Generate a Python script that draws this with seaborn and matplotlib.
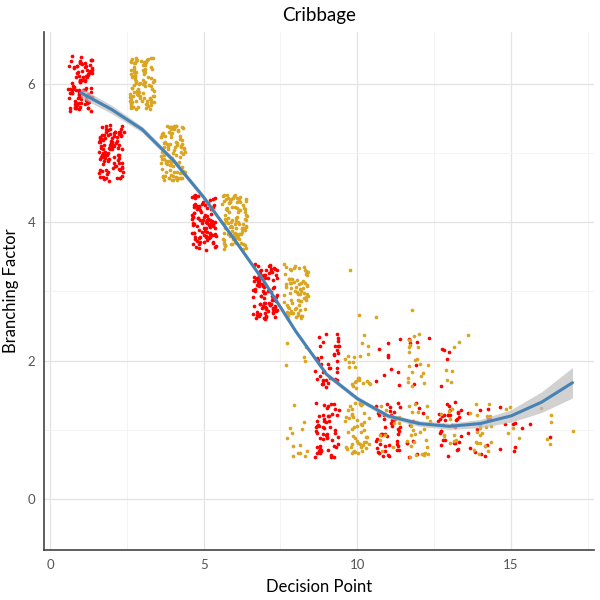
import numpy as np
import pandas as pd
import matplotlib
matplotlib.use("Agg")
import matplotlib.pyplot as plt
from matplotlib.ticker import MultipleLocator
import seaborn as sns

# observations: decision point, branching factor, player, how many games
point_x = [1, 2, 3, 4, 5, 6, 7,
           8, 8, 8,
           9, 9,
           10, 10, 10,
           11, 11, 11, 11,
           12, 12, 12, 12, 12,
           13, 13, 13, 13,
           14, 14, 14,
           15, 15,
           16, 16,
           17]
point_y = [6, 5, 6, 5, 4, 4, 3,
           3, 2, 1,
           2, 1,
           3, 2, 1,
           3, 2, 1, 1,
           3, 2, 2, 1, 1,
           2, 2, 1, 1,
           2, 1, 1,
           1, 1,
           1, 1,
           1]
point_player = ["A", "A", "B", "B", "A", "B", "A",
                "B", "B", "B",
                "A", "A",
                "B", "B", "B",
                "B", "A", "A", "B",
                "B", "B", "A", "B", "A",
                "A", "B", "A", "B",
                "B", "A", "B",
                "A", "B",
                "A", "B",
                "B"]
point_count = [100, 100, 100, 100, 100, 100, 100,
               75, 5, 13,
               40, 55,
               2, 24, 50,
               1, 10, 45, 10,
               1, 20, 6, 28, 10,
               5, 6, 35, 10,
               1, 12, 22,
               8, 5,
               2, 5,
               1]

# smoothed trend
smooth_x = list(range(1, 18))
smooth_y = [5.87, 5.63, 5.34, 4.90, 4.36, 3.75, 3.12, 2.42, 1.80, 1.45,
            1.20, 1.09, 1.05, 1.09, 1.20, 1.40, 1.68]
smooth_se = [0.07, 0.06, 0.045, 0.04, 0.04, 0.035, 0.035, 0.035, 0.035, 0.035,
             0.035, 0.04, 0.045, 0.06, 0.09, 0.15, 0.22]

df = pd.DataFrame({"decision": point_x, "branching": point_y,
                   "player": point_player, "n": point_count})
df = df.loc[df.index.repeat(df["n"])].reset_index(drop=True)

sns.set_style("white")
plt.rcParams["font.family"] = ["Lato", "DejaVu Sans"]

np.random.seed(7)
fig = plt.figure(figsize=(6, 6), dpi=100)
ax = fig.add_axes([0.073, 0.083, 0.917, 0.864])

colors = {"A": "#FF0000", "B": "#DAA520"}
for p in ["A", "B"]:
    sns.regplot(data=df[df["player"] == p], x="decision", y="branching",
                fit_reg=False, x_jitter=0.4, y_jitter=0.4, color=colors[p],
                scatter_kws=dict(s=7, linewidths=0, alpha=1), ax=ax)

lo = np.array(smooth_y) - np.array(smooth_se)
hi = np.array(smooth_y) + np.array(smooth_se)
ax.fill_between(smooth_x, lo, hi, color="#BEBEBE", alpha=0.7, linewidth=0, zorder=3)
sns.lineplot(x=smooth_x, y=smooth_y, color="#4682B4", linewidth=2.2, ax=ax, zorder=4)

ax.set_xlim(-0.2, 17.7)
ax.set_ylim(-0.74, 6.75)
ax.xaxis.set_major_locator(MultipleLocator(5))
ax.xaxis.set_minor_locator(MultipleLocator(2.5))
ax.yaxis.set_major_locator(MultipleLocator(2))
ax.yaxis.set_minor_locator(MultipleLocator(1))
ax.grid(which="major", color="#E3E3E3", linewidth=0.9)
ax.grid(which="minor", color="#F3F3F3", linewidth=0.7)
ax.set_axisbelow(True)
ax.tick_params(which="both", length=0, labelsize=9.5, labelcolor="#555555", pad=6)

for s in ["top", "right"]:
    ax.spines[s].set_visible(False)
for s in ["left", "bottom"]:
    ax.spines[s].set_color("#444444")
    ax.spines[s].set_linewidth(1.2)

ax.set_xlabel("Decision Point", fontsize=12, color="black", labelpad=6)
ax.set_ylabel("Branching Factor", fontsize=12, color="black", labelpad=6)
ax.set_title("Cribbage", fontsize=13.5, color="black", pad=8)

fig.savefig("out.png", dpi=100)
